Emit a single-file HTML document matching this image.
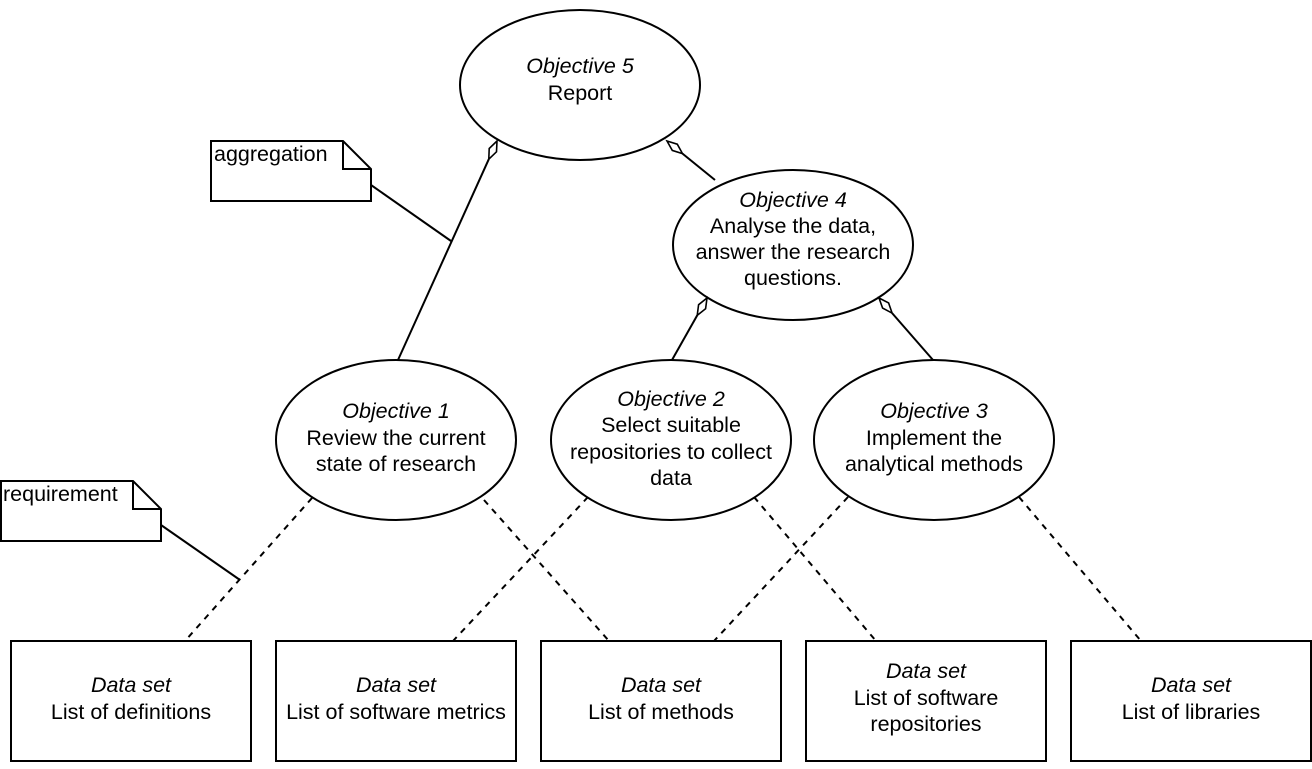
<!DOCTYPE html>
<html><head><meta charset="utf-8"><style>
html,body{margin:0;padding:0;background:#fff;}
svg text{font-family:"Liberation Sans",Helvetica,Arial,sans-serif;font-size:21.5px;fill:#000;}
</style></head><body>
<svg width="1312" height="764" viewBox="0 0 1312 764" xmlns="http://www.w3.org/2000/svg">
<g fill="#fff" stroke="#000" stroke-width="2">
<ellipse cx="580" cy="85" rx="120" ry="75"/>
<ellipse cx="793" cy="245" rx="120" ry="75"/>
<ellipse cx="396" cy="440" rx="120" ry="80"/>
<ellipse cx="671" cy="440" rx="120" ry="80"/>
<ellipse cx="934" cy="440" rx="120" ry="80"/>
<rect x="11" y="641" width="240" height="120"/>
<rect x="276" y="641" width="240" height="120"/>
<rect x="541" y="641" width="240" height="120"/>
<rect x="806" y="641" width="240" height="120"/>
<rect x="1071" y="641" width="240" height="120"/>
<path d="M211 141 H343 L371 169 V201 H211 Z"/>
<path d="M343 141 V169 H371" fill="none"/>
<path d="M1 481 H133 L161 509 V541 H1 Z"/>
<path d="M133 481 V509 H161" fill="none"/>
</g>
<g stroke="#000" stroke-width="2" fill="none">
<line x1="488.8" y1="159.2" x2="398" y2="360"/>
<line x1="682.5" y1="153.6" x2="715" y2="180"/>
<line x1="697.2" y1="315.4" x2="672" y2="360"/>
<line x1="892.1" y1="313.1" x2="933" y2="360"/>
<line x1="371" y1="185" x2="451" y2="241"/>
<line x1="161" y1="525" x2="240" y2="580"/>
</g>
<g stroke="#000" stroke-width="1.6" fill="#fff">
<polygon points="497,141 496.5,151.8 488.8,159.2 489.2,148.5"/>
<polygon points="667,141 677.3,144.2 682.5,153.6 672.3,150.4"/>
<polygon points="707,298 705.6,308.7 697.2,315.4 698.6,304.7"/>
<polygon points="879,298 888.6,302.9 892.1,313.1 882.6,308.1"/>
</g>
<g stroke="#000" stroke-width="2" stroke-dasharray="6,6" fill="none">
<line x1="312" y1="498" x2="185" y2="641"/>
<line x1="484" y1="500" x2="609" y2="641"/>
<line x1="588" y1="497" x2="453" y2="641"/>
<line x1="754" y1="497" x2="876" y2="641"/>
<line x1="848" y1="497" x2="714" y2="641"/>
<line x1="1019" y1="497" x2="1141" y2="641"/>
</g>
<g text-anchor="middle">
<text x="580" y="73" font-style="italic">Objective 5</text>
<text x="580" y="100">Report</text>
<text x="793" y="207" font-style="italic">Objective 4</text>
<text x="793" y="260" dy="-27">Analyse the data,</text>
<text x="793" y="259">answer the research</text>
<text x="793" y="285">questions.</text>
<text x="396" y="418" font-style="italic">Objective 1</text>
<text x="396" y="445">Review the current</text>
<text x="396" y="471">state of research</text>
<text x="671" y="406" font-style="italic">Objective 2</text>
<text x="671" y="432">Select suitable</text>
<text x="671" y="459">repositories to collect</text>
<text x="671" y="485">data</text>
<text x="934" y="418" font-style="italic">Objective 3</text>
<text x="934" y="445">Implement the</text>
<text x="934" y="471">analytical methods</text>
<text x="131" y="692" font-style="italic">Data set</text>
<text x="131" y="719">List of definitions</text>
<text x="396" y="692" font-style="italic">Data set</text>
<text x="396" y="719">List of software metrics</text>
<text x="661" y="692" font-style="italic">Data set</text>
<text x="661" y="719">List of methods</text>
<text x="926" y="678" font-style="italic">Data set</text>
<text x="926" y="705">List of software</text>
<text x="926" y="731">repositories</text>
<text x="1191" y="692" font-style="italic">Data set</text>
<text x="1191" y="719">List of libraries</text>
</g>
<text x="214" y="161">aggregation</text>
<text x="3" y="501">requirement</text>
</svg>
</body></html>
